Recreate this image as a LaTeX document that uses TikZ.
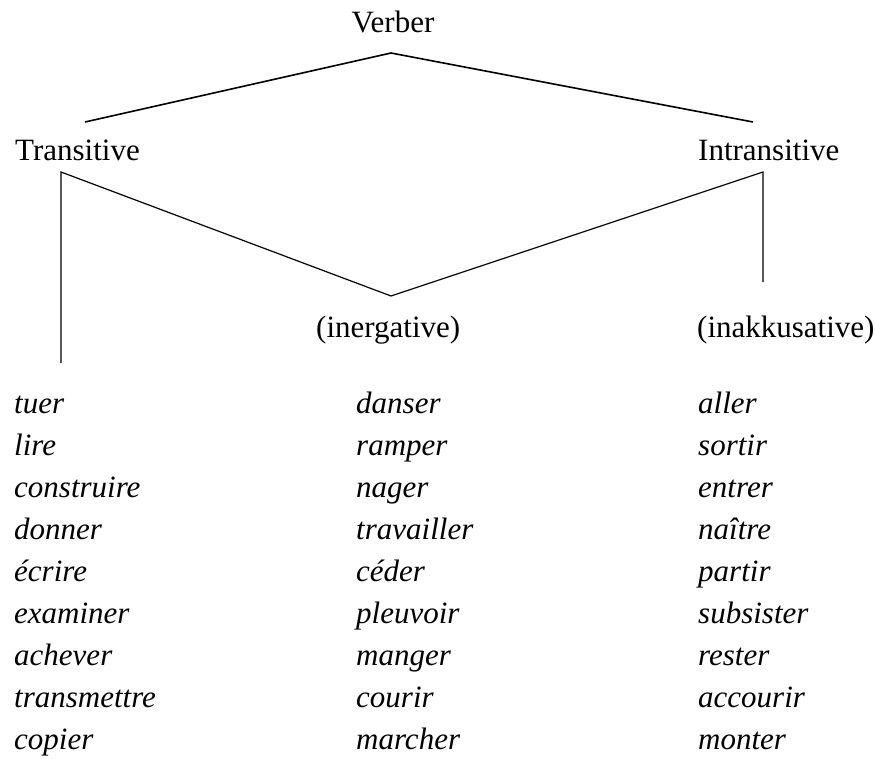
\documentclass[tikz,border=0pt]{standalone}
\usepackage{fontspec}
\setmainfont{Liberation Serif}
\begin{document}
\begin{tikzpicture}[x=1pt,y=-1pt,
  lab/.style={inner sep=0pt, font=\fontsize{31}{37}\selectfont},
  wd/.style={inner sep=0pt, anchor=base west, font=\fontsize{31}{37}\selectfont\itshape},
  topbr/.style={line width=1.6pt},
  br/.style={line width=1.2pt}]
\useasboundingbox (0,0) rectangle (875,758);
% labels
\node[lab,anchor=base] (verber) at (393,32) {Verber};
\node[lab,anchor=base west] (trans) at (15,160) {Transitive};
\node[lab,anchor=base west] (intrans) at (698,160) {Intransitive};
\node[lab,anchor=base west] (inerg) at (316,337) {(inergative)};
\node[lab,anchor=base west] (inakk) at (697,337) {(inakkusative)};
% branch points
\coordinate (apex) at (391,53);
\coordinate (tl) at (85,122);
\coordinate (tr) at (753,122);
\coordinate (ttop) at (61,172);
\coordinate (tbot) at (61,363);
\coordinate (itop) at (763,172);
\coordinate (ibot) at (763,282);
\coordinate (vbot) at (391,296);
\draw[topbr] (tl) -- (apex) -- (tr);
\draw[br] (tbot) -- (ttop) -- (vbot) -- (itop) -- (ibot);
% word lists
\foreach \w [count=\i from 0] in {tuer,lire,construire,donner,écrire,examiner,achever,transmettre,copier}
  \node[wd] (a\i) at (14,413+42*\i) {\w};
\foreach \w [count=\i from 0] in {danser,ramper,nager,travailler,céder,pleuvoir,manger,courir,marcher}
  \node[wd] (b\i) at (356,413+42*\i) {\w};
\foreach \w [count=\i from 0] in {aller,sortir,entrer,naître,partir,subsister,rester,accourir,monter}
  \node[wd] (c\i) at (698,413+42*\i) {\w};
\end{tikzpicture}
\end{document}
